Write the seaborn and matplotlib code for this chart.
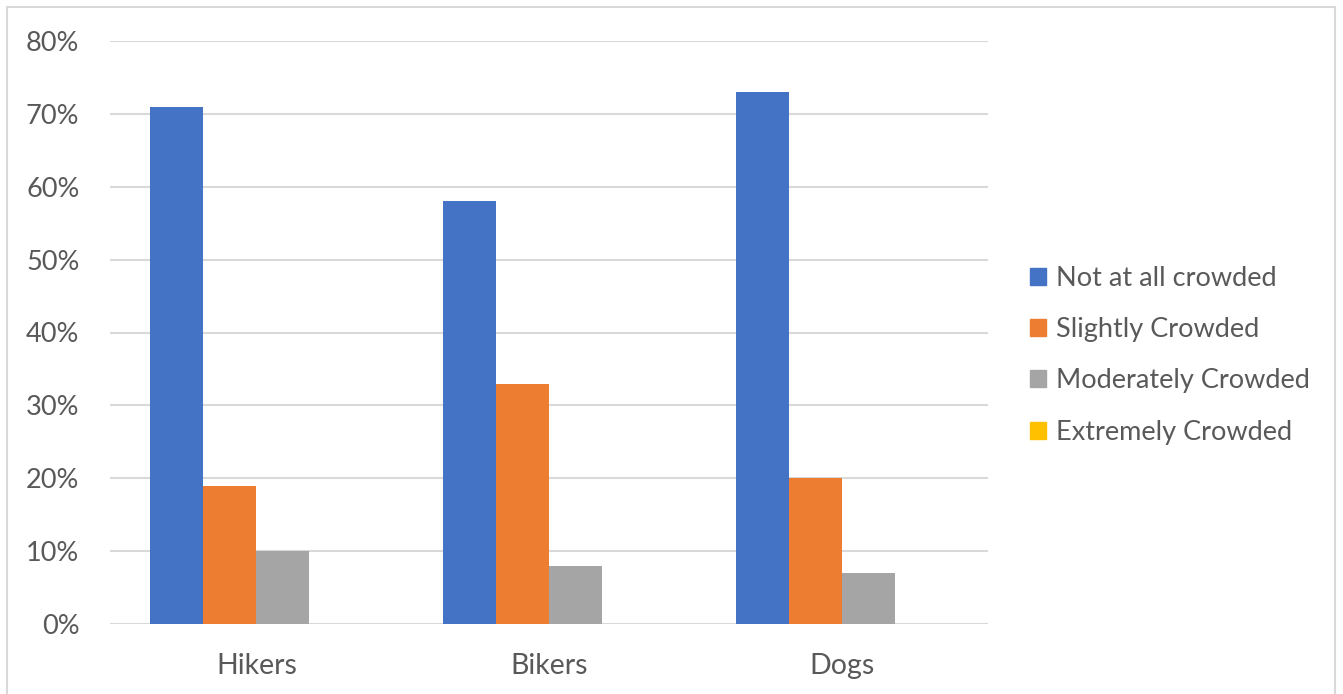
import matplotlib.pyplot as plt
import matplotlib.patches as mpatches
import pandas as pd
import seaborn as sns

# data (share of responses)
groups = ["Hikers", "Bikers", "Dogs"]
levels = ["Not at all crowded", "Slightly Crowded", "Moderately Crowded", "Extremely Crowded"]
not_at_all = [0.71, 0.58, 0.73]
slightly = [0.19, 0.33, 0.20]
moderately = [0.10, 0.08, 0.07]
extremely = [0.0, 0.0, 0.0]
colors = ["#4472C4", "#ED7D31", "#A5A5A5", "#FFC000"]
y_ticks = [0, 0.1, 0.2, 0.3, 0.4, 0.5, 0.6, 0.7, 0.8]

series = [not_at_all, slightly, moderately, extremely]
rows = []
for level, vals in zip(levels, series):
    for g, v in zip(groups, vals):
        rows.append({"group": g, "level": level, "value": v})
df = pd.DataFrame(rows)

sns.set_style("white")
plt.rcParams["font.family"] = ["Lato", "DejaVu Sans"]
text_color = "#595959"
grid_color = "#D9D9D9"

fig = plt.figure(figsize=(13.43, 6.94), dpi=100)
ax = fig.add_axes([110 / 1343, 1 - 624 / 694, 878 / 1343, 583 / 694])

sns.barplot(data=df, x="group", y="value", hue="level", hue_order=levels,
            order=groups, palette=colors, saturation=1, width=0.724, gap=0,
            linewidth=0, legend=False, ax=ax)

ax.set_ylim(0, 0.8)
ax.set_yticks(y_ticks)
ax.set_yticklabels([f"{int(round(t * 100))}%" for t in y_ticks])
ax.set_xlim(-0.5, 2.5)
ax.set_xlabel("")
ax.set_ylabel("")
ax.yaxis.grid(True, color=grid_color, linewidth=1.5)
ax.set_axisbelow(True)
for s in ax.spines.values():
    s.set_visible(False)
ax.tick_params(axis="both", length=0, colors=text_color)
ax.tick_params(axis="y", pad=22, labelsize=19.5)
ax.tick_params(axis="x", pad=21, labelsize=20.5)

# legend on the right
handles = [mpatches.Patch(color=c, label=l) for c, l in zip(colors, levels)]
fig.legend(handles=handles, loc="center left", bbox_to_anchor=(1006 / 1343, 0.488),
           frameon=False, fontsize=19.5, labelcolor=text_color,
           handlelength=0.58, handleheight=0.58, handletextpad=0.35,
           labelspacing=0.97)

# light chart-area border
fig.patches.append(mpatches.Rectangle((7 / 1343, -0.05), 1328 / 1343, 1.05 - 7 / 694,
                                      transform=fig.transFigure, fill=False,
                                      edgecolor="#D9D9D9", linewidth=1.5))

fig.savefig("out.png", dpi=100)
